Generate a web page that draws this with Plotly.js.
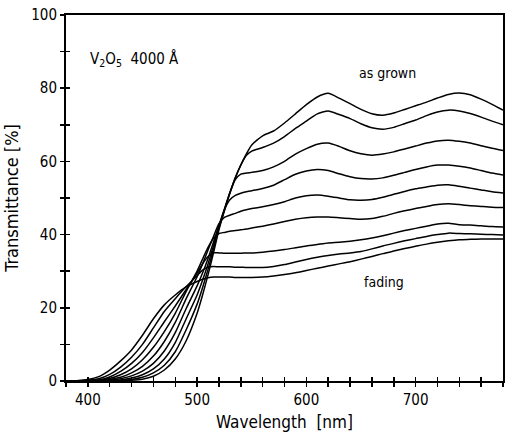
<!DOCTYPE html>
<html>
<head>
<meta charset="utf-8">
<script src="https://cdn.plot.ly/plotly-3.0.1.min.js"></script>
<style>html,body{margin:0;padding:0;background:#fff;}</style>
</head>
<body>
<div id="chart" style="width:505px;height:432px;"></div>
<script>
// Wavelength grid (nm)
const wavelength = [380,390,400,410,420,430,440,450,460,470,480,490,500,505,510,515,520,525,530,535,540,545,550,560,570,580,590,600,610,620,630,640,650,660,670,680,690,700,710,720,730,740,750,760,770,780];

// Transmittance (%) — "as grown" (top at long wavelengths) down to most "fading"
const asGrown = [0,0,0,0,0,0.1,0.2,0.5,1.3,3,6,11,18.5,23.5,29,35,41.3,46.5,51.3,55.5,59,62,64.5,67,68.3,70.5,73,75.5,77.6,78.6,77.3,75.8,74.2,73,72.6,73.2,74.2,75.2,76.2,77.3,78.3,78.7,78.2,77,75.6,74];
const step2 = [0,0,0,0,0,0.1,0.4,1,2.2,4.3,8,14,21,25.5,30.5,36,41.8,46.7,51.4,55.6,59,61.6,62.8,63.8,65,66.8,69,71,73,73.8,72.8,71.7,70.3,69.2,68.8,69.3,70.3,71.3,72.5,73.5,74,73.8,73.1,72.1,71,70];
const step3 = [0,0,0,0,0.1,0.3,0.8,1.7,3.3,6,10.5,17,23.5,27.5,32,37,42.2,47,51.5,55,56.5,56.8,57,57.5,58.5,60,62,63.5,64.7,65,64.1,62.9,62.1,61.7,62,62.6,63.4,64.2,65,65.6,65.8,65.5,65,64.3,63.6,63];
const step4 = [0,0,0,0.1,0.2,0.6,1.4,2.7,4.8,8.2,13.2,19.8,26,29.5,33.5,38,42.5,46.8,49.5,50.7,51.3,51.7,52,52.6,53.5,55,56.5,57.4,57.8,57.5,56.6,55.8,55.3,55.2,55.5,56.2,57,57.8,58.5,59,59,58.7,58.2,57.5,56.8,56.3];
const step5 = [0,0,0,0.1,0.4,1,2.2,4,6.8,10.8,16,22.5,28.5,32,35.8,39.5,43,44.7,45.3,45.8,46.4,46.8,47.1,47.6,48.2,49,50,50.6,50.8,50.5,50,49.5,49.4,49.6,50.2,51,51.8,52.5,53,53.5,53.6,53.2,52.7,52.2,51.7,51.4];
const step6 = [0,0,0.1,0.2,0.7,1.7,3.3,5.8,9.2,13.5,18.5,24.5,30,33.3,36.5,39,40.3,40.6,40.9,41.1,41.3,41.5,41.8,42.3,42.9,43.6,44.2,44.6,44.8,44.8,44.6,44.4,44.2,44.4,45,45.8,46.5,47.1,47.7,48.2,48.4,48.2,47.9,47.7,47.5,47.4];
const step7 = [0,0,0.1,0.3,1.1,2.6,4.8,7.8,11.8,16.2,20.5,25,29.5,32,34,35,35,34.9,34.9,34.9,34.9,35,35,35.2,35.5,35.9,36.4,36.9,37.3,37.7,37.9,38.2,38.6,39.1,39.7,40.4,41.1,41.7,42.3,42.9,43.1,42.7,42.6,42.4,42.2,42.1];
const step8 = [0,0,0.2,0.6,1.8,3.8,6.5,10,14.5,19,22.5,25.8,28.8,30.3,31.1,31.3,31.2,31.2,31.2,31.1,31.1,31,31,31,31.3,31.8,32.5,33.2,33.8,34.3,34.7,35,35.4,36.1,36.9,37.6,38.3,38.9,39.5,40,40.4,40.3,40.2,40.1,40,39.9];
const fading = [0,0.1,0.4,1.2,3,5.5,8.5,12.5,17,20.8,23.5,25.7,27.2,27.8,28.2,28.4,28.4,28.4,28.4,28.3,28.3,28.3,28.3,28.4,28.7,29.1,29.6,30.2,30.8,31.4,32,32.6,33.3,34,34.8,35.5,36.2,36.8,37.4,37.9,38.3,38.6,38.7,38.8,38.8,38.8];

const seriesList = [asGrown, step2, step3, step4, step5, step6, step7, step8, fading];

// Tick settings
const xTickVals = [400, 500, 600, 700];
const yTickVals = [0, 20, 40, 60, 80, 100];

// Text labels
const xTitle = 'Wavelength\u00a0\u00a0[nm]';
const yTitle = 'Transmittance [%]';
const sampleLabel = 'V<sub>2</sub>O<sub>5</sub>\u00a0 4000 Å';
const topLabel = 'as grown';
const bottomLabel = 'fading';

const FONT = 'DejaVu Sans Condensed, DejaVu Sans, sans-serif';

const traces = seriesList.map((ys, i) => ({
  type: 'scatter',
  mode: 'lines',
  x: wavelength,
  y: ys,
  xaxis: i === 0 ? 'x2' : 'x',
  yaxis: i === 0 ? 'y2' : 'y',
  line: {color: 'black', width: 1.5, shape: 'spline', smoothing: 0.6},
  hoverinfo: 'skip'
}));

const layout = {
  width: 505,
  height: 432,
  margin: {l: 66, r: 2, t: 15, b: 51},
  paper_bgcolor: 'white',
  plot_bgcolor: 'white',
  showlegend: false,
  font: {family: FONT, color: 'black'},
  xaxis: {
    range: [380, 780],
    tickvals: xTickVals,
    ticks: 'outside', ticklen: 4, tickwidth: 1.5, tickcolor: 'black',
    minor: {tick0: 400, dtick: 20, ticks: 'outside', ticklen: 4, tickwidth: 1.5, tickcolor: 'black'},
    showline: true, linewidth: 2, linecolor: 'black', mirror: true,
    showgrid: false, zeroline: false,
    tickfont: {family: FONT, size: 15, color: 'black'},
    title: {text: xTitle, font: {family: FONT, size: 17, color: 'black'}, standoff: 9}
  },
  yaxis: {
    range: [0, 100],
    tickvals: yTickVals,
    ticks: 'outside', ticklen: 4, tickwidth: 1.5, tickcolor: 'black',
    minor: {tick0: 0, dtick: 10, ticks: 'outside', ticklen: 4, tickwidth: 1.5, tickcolor: 'black'},
    showline: true, linewidth: 2, linecolor: 'black', mirror: true,
    showgrid: false, zeroline: false,
    tickfont: {family: FONT, size: 15, color: 'black'},
    title: {text: yTitle, font: {family: FONT, size: 18, color: 'black'}, standoff: 8}
  },
  xaxis2: {
    overlaying: 'x', anchor: 'y', side: 'bottom',
    range: [380, 780], tick0: 400, dtick: 20,
    ticks: 'inside', ticklen: 4, tickwidth: 1.5, tickcolor: 'black',
    showticklabels: false, showline: false, showgrid: false, zeroline: false
  },
  yaxis2: {
    overlaying: 'y', anchor: 'x', side: 'left',
    range: [0, 100], tick0: 0, dtick: 10,
    ticks: 'inside', ticklen: 4, tickwidth: 1.5, tickcolor: 'black',
    showticklabels: false, showline: false, showgrid: false, zeroline: false
  },
  annotations: [
    {text: sampleLabel, x: 400, y: 88, xref: 'x', yref: 'y', xanchor: 'left', yanchor: 'middle', showarrow: false, font: {family: FONT, size: 15, color: 'black'}},
    {text: topLabel, x: 674, y: 84.2, xref: 'x', yref: 'y', xanchor: 'center', yanchor: 'middle', showarrow: false, font: {family: FONT, size: 14, color: 'black'}},
    {text: bottomLabel, x: 671, y: 27, xref: 'x', yref: 'y', xanchor: 'center', yanchor: 'middle', showarrow: false, font: {family: FONT, size: 14, color: 'black'}}
  ]
};

Plotly.newPlot('chart', traces, layout, {displayModeBar: false, staticPlot: true});
</script>
</body>
</html>
